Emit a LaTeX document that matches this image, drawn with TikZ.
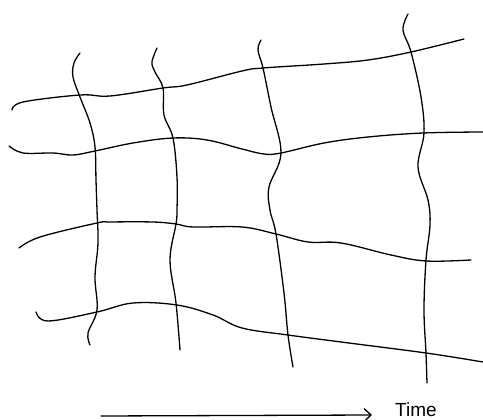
\documentclass[tikz,border=0pt]{standalone}
\usepackage{fontspec}
\setmainfont{Liberation Sans}
\usetikzlibrary{arrows.meta}
\begin{document}
\begin{tikzpicture}[x=1pt,y=-1pt,
  stroke/.style={line width=1.3pt,line cap=round,line join=round},
  lbl/.style={font=\fontsize{19}{22}\selectfont,inner sep=0pt,anchor=base west}]
\useasboundingbox (0,0) rectangle (483,420);
% horizontal lines
\draw[stroke] plot[smooth,tension=0.6] coordinates {(12,110) (23,102) (80,95) (110,96) (163,88) (187,85) (242,71) (263,68) (324,64) (368,60) (411,52) (464,39)};
\draw[stroke] plot[smooth,tension=0.6] coordinates {(9,146) (23,153) (53,153) (73,155) (95,151) (133,143) (173,138) (207,140) (242,149) (264,154) (281,153) (324,143) (368,137) (423,133) (483,132)};
\draw[stroke] plot[smooth,tension=0.6] coordinates {(19,248) (40,237) (97,223) (110,222) (153,222) (176,224) (193,227) (242,227) (276,234) (308,242) (341,243) (391,255) (426,261) (471,260)};
\draw[stroke] plot[smooth,tension=0.6] coordinates {(36,312) (48,321) (97,312) (133,303) (177,305) (213,315) (242,328) (288,335) (341,342) (426,353) (483,362)};
% vertical lines
\draw[stroke] plot[smooth,tension=0.6] coordinates {(80,53) (74,63) (73,77) (80,97) (90,123) (95,147) (96,180) (97,210) (98,243) (95,277) (97,310) (88,333) (90,345)};
\draw[stroke] plot[smooth,tension=0.6] coordinates {(157,48) (152,62) (155,72) (163,88) (164,115) (173,138) (177,177) (177,210) (176,224) (170,260) (176,303) (180,350)};
\draw[stroke] plot[smooth,tension=0.6] coordinates {(261,40) (258,50) (263,68) (271,107) (281,153) (269,187) (270,210) (276,234) (284,293) (288,335) (293,367)};
\draw[stroke] plot[smooth,tension=0.6] coordinates {(408,14) (403,30) (411,52) (421,97) (424,133) (418,167) (428,200) (430,225) (426,260) (424,310) (426,353) (427,383)};
% time arrow
\coordinate (tstart) at (101,416);
\coordinate (tend) at (372,415);
\node[lbl] (time) at (395,416) {Time};
\draw[stroke,-{Straight Barb[length=7pt,width=13pt,line width=1.3pt]}] (tstart) -- (tend);
\end{tikzpicture}
\end{document}
